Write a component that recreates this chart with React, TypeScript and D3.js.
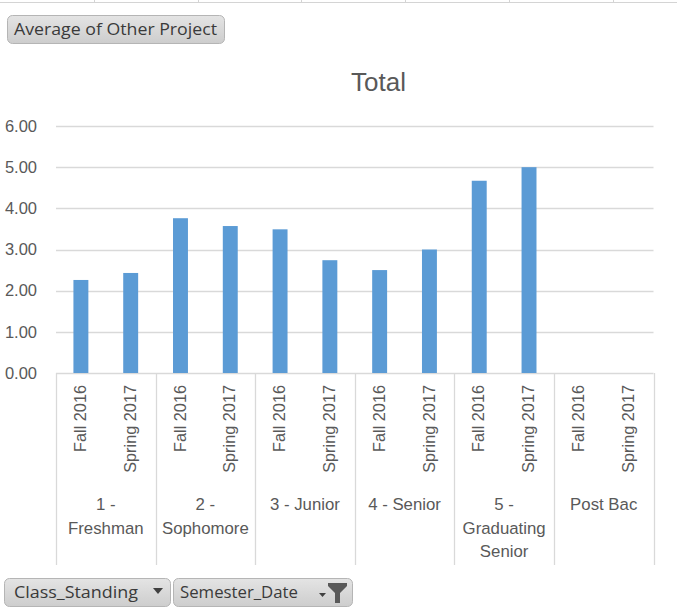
import React, { useEffect, useRef } from "react";
import * as d3 from "d3";

const categories = ["1 - Freshman", "2 - Sophomore", "3 - Junior", "4 - Senior", "5 - Graduating Senior", "Post Bac"];
const semesters = ["Fall 2016", "Spring 2017"];
const fall2016 = [2.26, 3.76, 3.49, 2.5, 4.67, null];
const spring2017 = [2.43, 3.57, 2.74, 3.0, 5.0, null];
const yTicks = [0, 1, 2, 3, 4, 5, 6];
const title = "Total";
const valueButton = "Average of Other Project";
const axisButtons = ["Class_Standing", "Semester_Date"];

const W = 677, H = 613;
const FONT = "'Liberation Sans', Arial, sans-serif";
const BTN_FONT = "'Open Sans', sans-serif";
const TXT = "#595959";
const GRID = "#d9d9d9";
const BAR = "#5b9bd5";

function wrap(text: string, maxW: number, font: string): string[] {
  const ctx = document.createElement("canvas").getContext("2d")!;
  ctx.font = font;
  const words = text.split(" ");
  const lines: string[] = [];
  let cur = "";
  for (const w of words) {
    const t = cur ? cur + " " + w : w;
    if (cur && ctx.measureText(t).width > maxW && w !== "-") {
      lines.push(cur);
      cur = w;
    } else cur = t;
  }
  if (cur) lines.push(cur);
  return lines;
}

export default function App() {
  const ref = useRef<SVGSVGElement>(null);
  useEffect(() => {
    const svg = d3.select(ref.current);
    svg.selectAll("*").remove();

    const defs = svg.append("defs");
    const g = defs.append("linearGradient").attr("id", "btn").attr("x1", 0).attr("y1", 0).attr("x2", 0).attr("y2", 1);
    g.append("stop").attr("offset", "0%").attr("stop-color", "#e4e4e4");
    g.append("stop").attr("offset", "100%").attr("stop-color", "#cdcdcd");

    // spreadsheet cell lines at very top
    svg.append("line").attr("x1", 0).attr("x2", W).attr("y1", 2.5).attr("y2", 2.5).attr("stroke", "#d4d4d4");
    [94, 198, 301, 405, 509, 613].forEach((x) => {
      svg.append("line").attr("x1", x + 0.5).attr("x2", x + 0.5).attr("y1", 0).attr("y2", 3).attr("stroke", "#d4d4d4");
    });

    const left = 56, right = 653.5, top = 126, bottom = 373;
    const y = d3.scaleLinear().domain([0, 6]).range([bottom, top]);

    const rows: { cat: number; sem: string; v: number | null; key: string }[] = [];
    categories.forEach((c, i) => {
      rows.push({ cat: i, sem: semesters[0], v: fall2016[i], key: `${i}-0` });
      rows.push({ cat: i, sem: semesters[1], v: spring2017[i], key: `${i}-1` });
    });
    const x = d3.scaleBand<string>().domain(rows.map((r) => r.key)).range([left, right]).paddingInner(0.7).paddingOuter(0.35);
    const xCat = d3.scaleBand<string>().domain(categories).range([left, right]);

    // gridlines
    svg.append("g").selectAll("line").data(yTicks).join("line")
      .attr("x1", left).attr("x2", right)
      .attr("y1", (d) => Math.round(y(d)) + 0.5).attr("y2", (d) => Math.round(y(d)) + 0.5)
      .attr("stroke", GRID).attr("stroke-width", 1.3);

    // y labels
    svg.append("g").selectAll("text").data(yTicks).join("text")
      .attr("x", 37).attr("y", (d) => y(d)).attr("dy", "0.35em")
      .attr("text-anchor", "end").attr("font-family", FONT).attr("font-size", 16.5).attr("fill", TXT)
      .text((d) => d3.format(".2f")(d));

    // bars
    svg.append("g").selectAll("rect").data(rows.filter((r) => r.v != null)).join("rect")
      .attr("x", (d) => x(d.key)!).attr("width", x.bandwidth())
      .attr("y", (d) => y(d.v as number)).attr("height", (d) => bottom - y(d.v as number))
      .attr("fill", BAR);

    // category dividers
    const edges = categories.map((c) => xCat(c)!).concat([right]);
    svg.append("g").selectAll("line").data(edges).join("line")
      .attr("x1", (d) => Math.round(d) + 0.5).attr("x2", (d) => Math.round(d) + 0.5)
      .attr("y1", bottom).attr("y2", 565).attr("stroke", GRID).attr("stroke-width", 1.3);

    // semester labels
    svg.append("g").selectAll("text").data(rows).join("text")
      .attr("transform", (d) => `translate(${x(d.key)! + x.bandwidth() / 2 - 0.5},385) rotate(-90)`)
      .attr("text-anchor", "end").attr("dy", "0.35em")
      .attr("font-family", FONT).attr("font-size", 16.3).attr("fill", TXT)
      .text((d) => d.sem);

    // category labels
    const catFont = `16.8px ${FONT}`;
    categories.forEach((c) => {
      const lines = wrap(c, 92, catFont);
      const t = svg.append("text").attr("text-anchor", "middle").attr("font-family", FONT)
        .attr("font-size", 16.8).attr("fill", TXT);
      lines.forEach((ln, i) => {
        t.append("tspan").attr("x", xCat(c)! + xCat.bandwidth() / 2).attr("y", 510 + i * 23.5).text(ln);
      });
    });

    // title
    svg.append("text").attr("x", 378.5).attr("y", 91).attr("text-anchor", "middle")
      .attr("font-family", FONT).attr("font-size", 26).attr("fill", TXT).text(title);

    // buttons
    const button = (bx: number, by: number, bw: number, bh: number, label: string, pad: number, tw: number) => {
      svg.append("rect").attr("x", bx + 0.5).attr("y", by + 0.5).attr("width", bw).attr("height", bh)
        .attr("rx", 5).attr("fill", "url(#btn)").attr("stroke", "#b5b5b5");
      svg.append("text").attr("x", bx + pad).attr("y", by + bh / 2).attr("dy", "0.36em")
        .attr("font-family", BTN_FONT).attr("font-size", 16).attr("fill", "#3a3a3a")
        .attr("textLength", tw).attr("lengthAdjust", "spacingAndGlyphs").text(label);
    };
    button(7, 15, 217, 28, valueButton, 7, 203);
    button(4, 578, 166, 28, axisButtons[0], 10, 124);
    button(173, 578, 179, 28, axisButtons[1], 7, 118);

    // dropdown arrows
    svg.append("path").attr("d", "M153,588 L163,588 L158,594 Z").attr("fill", "#404040");
    svg.append("path").attr("d", "M319,593 L326,593 L322.5,597 Z").attr("fill", "#404040");
    // funnel
    svg.append("path").attr("d", "M328,583 L347,583 L347,586 L340,593 L340,603 L335,603 L335,593 L328,586 Z").attr("fill", "#595959");
  }, []);

  return (
    <svg ref={ref} width={W} height={H}
      style={{ position: "absolute", left: 0, top: 0, background: "#fff" }} />
  );
}
